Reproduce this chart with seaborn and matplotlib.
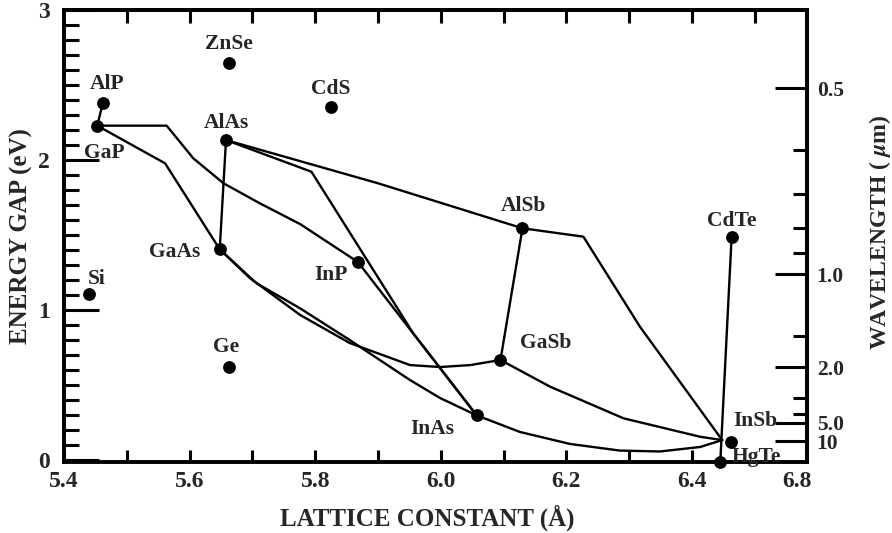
import matplotlib
matplotlib.use("Agg")
import matplotlib.pyplot as plt
import numpy as np
import pandas as pd
import seaborn as sns

# compounds: lattice constant (angstrom) and energy gap (eV)
names = ["AlP", "GaP", "AlAs", "GaAs", "InP", "Si", "Ge", "InAs", "GaSb",
         "AlSb", "CdTe", "InSb", "HgTe", "ZnSe", "CdS"]
lattice = [5.462, 5.453, 5.658, 5.648, 5.868, 5.440, 5.662, 6.057, 6.095,
           6.130, 6.463, 6.462, 6.445, 5.662, 5.825]
gap = [2.382, 2.229, 2.133, 1.405, 1.320, 1.107, 0.618, 0.298, 0.667,
       1.545, 1.489, 0.122, -0.01, 2.645, 2.355]

# alloy curves (x = lattice constant, y = gap)
alp_gap_x = [5.462, 5.453]
alp_gap_y = [2.382, 2.229]
gap_inp_x = [5.453, 5.5635, 5.606, 5.654, 5.712, 5.776, 5.868]
gap_inp_y = [2.229, 2.229, 2.011, 1.845, 1.711, 1.573, 1.320]
gap_gaas_x = [5.453, 5.561, 5.648]
gap_gaas_y = [2.229, 1.978, 1.405]
alas_gaas_x = [5.658, 5.648]
alas_gaas_y = [2.133, 1.405]
alas_alsb_x = [5.658, 5.900, 6.130]
alas_alsb_y = [2.133, 1.845, 1.545]
alas_inas_x = [5.658, 5.794, 5.956, 6.057]
alas_inas_y = [2.133, 1.922, 0.845, 0.298]
inp_inas_x = [5.868, 6.057]
inp_inas_y = [1.320, 0.298]
gaas_inas_x = [5.648, 5.706, 5.776, 5.855, 5.951, 5.999, 6.057]
gaas_inas_y = [1.405, 1.180, 1.011, 0.800, 0.533, 0.413, 0.298]
gaas_gasb_x = [5.648, 5.696, 5.776, 5.855, 5.951, 5.999, 6.047, 6.095]
gaas_gasb_y = [1.405, 1.213, 0.967, 0.780, 0.633, 0.620, 0.633, 0.667]
alsb_gasb_x = [6.130, 6.095]
alsb_gasb_y = [1.545, 0.667]
alsb_insb_x = [6.130, 6.227, 6.317, 6.448]
alsb_insb_y = [1.545, 1.489, 0.889, 0.133]
gasb_insb_x = [6.095, 6.174, 6.291, 6.413, 6.448]
gasb_insb_y = [0.667, 0.489, 0.278, 0.155, 0.133]
inas_insb_x = [6.057, 6.126, 6.206, 6.285, 6.349, 6.413, 6.448]
inas_insb_y = [0.298, 0.187, 0.107, 0.063, 0.057, 0.087, 0.133]
cdte_hgte_x = [6.463, 6.445]
cdte_hgte_y = [1.489, -0.01]

curves = [
    ("AlP-GaP", alp_gap_x, alp_gap_y),
    ("GaP-InP", gap_inp_x, gap_inp_y),
    ("GaP-GaAs", gap_gaas_x, gap_gaas_y),
    ("AlAs-GaAs", alas_gaas_x, alas_gaas_y),
    ("AlAs-AlSb", alas_alsb_x, alas_alsb_y),
    ("AlAs-InAs", alas_inas_x, alas_inas_y),
    ("InP-InAs", inp_inas_x, inp_inas_y),
    ("GaAs-InAs", gaas_inas_x, gaas_inas_y),
    ("GaAs-GaSb", gaas_gasb_x, gaas_gasb_y),
    ("AlSb-GaSb", alsb_gasb_x, alsb_gasb_y),
    ("AlSb-InSb", alsb_insb_x, alsb_insb_y),
    ("GaSb-InSb", gasb_insb_x, gasb_insb_y),
    ("InAs-InSb", inas_insb_x, inas_insb_y),
    ("CdTe-HgTe", cdte_hgte_x, cdte_hgte_y),
]

# axis ticks
x_tick_pos = [5.4, 5.6, 5.8, 6.0, 6.2, 6.4, 6.567]
x_tick_labels = ["5.4", "5.6", "5.8", "6.0", "6.2", "6.4", "6.8"]
x_minor = [5.5, 5.7, 5.9, 6.1, 6.3]
top_ticks = [5.5, 5.6, 5.7, 5.8, 5.9, 6.0, 6.1, 6.2, 6.3, 6.4, 6.5]
wl_major = [0.5, 1.0, 2.0, 5.0, 10.0]
wl_labels = ["0.5", "1.0", "2.0", "5.0", "10"]
wl_minor = [0.6, 0.7, 0.8, 0.9, 1.5, 3.0, 4.0]

# label offsets in pixels from each dot
offsets = {"ZnSe": (0, 19), "CdS": (0, 18), "AlP": (4, 19), "AlAs": (0, 17),
           "GaP": (7, -27), "GaAs": (-45, -3), "Si": (8, 15), "Ge": (-2, 20),
           "InP": (-27, -13), "InAs": (-44, -14), "GaSb": (45, 17),
           "AlSb": (1, 22), "CdTe": (0, 16), "InSb": (24, 21), "HgTe": (36, 5)}

sns.set_theme(style="ticks")
plt.rcParams["font.family"] = ["Liberation Serif", "DejaVu Serif"]
plt.rcParams["font.weight"] = "bold"
plt.rcParams["mathtext.fontset"] = "stix"

fig = plt.figure(figsize=(8.92, 5.33), dpi=100)
ax = fig.add_axes([0.0717, 0.1341, 0.8330, 0.8471])

rows = []
for cname, xs, ys in curves:
    for x, y in zip(xs, ys):
        rows.append((cname, x, y))
lines = pd.DataFrame(rows, columns=["curve", "lattice", "gap"])
sns.lineplot(data=lines, x="lattice", y="gap", units="curve", estimator=None,
             sort=False, color="black", lw=1.7, ax=ax, legend=False)

pts = pd.DataFrame({"name": names, "lattice": lattice, "gap": gap})
sns.scatterplot(data=pts, x="lattice", y="gap", color="black", s=85,
                linewidth=0, zorder=5, clip_on=False, ax=ax, legend=False)

for n, x, y in zip(names, lattice, gap):
    dx, dy = offsets[n]
    ax.annotate(n, (x, y), xytext=(dx, dy), textcoords="offset pixels",
                ha="center", va="center", fontsize=15.5, fontweight="bold")

ax.set_xlim(5.4, 6.583)
ax.set_ylim(-0.01, 3.0)
for s in ax.spines.values():
    s.set_visible(True)
    s.set_linewidth(2.8)
    s.set_color("black")

ax.set_xticks(x_tick_pos)
ax.set_xticklabels(x_tick_labels)
ax.set_xticks(x_minor, minor=True)
ax.set_yticks([0, 1, 2, 3])
ax.set_yticklabels(["0", "1", "2", "3"])
ax.set_yticks([v / 10 for v in range(1, 30) if v % 10], minor=True)
ax.tick_params(axis="x", which="both", direction="in", length=9, width=2.2,
               labelsize=17, pad=7, color="black")
ax.tick_params(axis="y", which="major", direction="in", length=25, width=2.2,
               labelsize=17, pad=10, color="black")
ax.tick_params(axis="y", which="minor", direction="in", length=11, width=2.2,
               color="black")
ax.xaxis.get_major_ticks()[-1].tick1line.set_visible(False)

top = ax.secondary_xaxis("top")
top.set_xticks(top_ticks)
top.tick_params(direction="in", length=9, width=2.2, labeltop=False, color="black")
top.spines["top"].set_linewidth(2.8)

right = ax.secondary_yaxis("right")
right.set_yticks([1.24 / w for w in wl_major])
right.set_yticklabels(wl_labels)
right.set_yticks([1.24 / w for w in wl_minor], minor=True)
right.tick_params(which="major", direction="in", length=23, width=2.2,
                  labelsize=15.5, pad=7, color="black")
right.tick_params(which="minor", direction="in", length=10, width=2.2, color="black")
right.spines["right"].set_linewidth(2.8)

ax.set_xlabel("LATTICE CONSTANT (Å)", fontsize=18, fontweight="bold")
ax.xaxis.set_label_coords(0.489, -0.095)
ax.set_ylabel("ENERGY GAP (eV)", fontsize=18, fontweight="bold")
ax.yaxis.set_label_coords(-0.042, 0.5)
fig.text(880 / 892, 1 - 232 / 533, "WAVELENGTH ( $\\mu$m)", rotation=90,
         ha="center", va="center", fontsize=17, fontweight="bold")

fig.savefig("out.png", dpi=100)
